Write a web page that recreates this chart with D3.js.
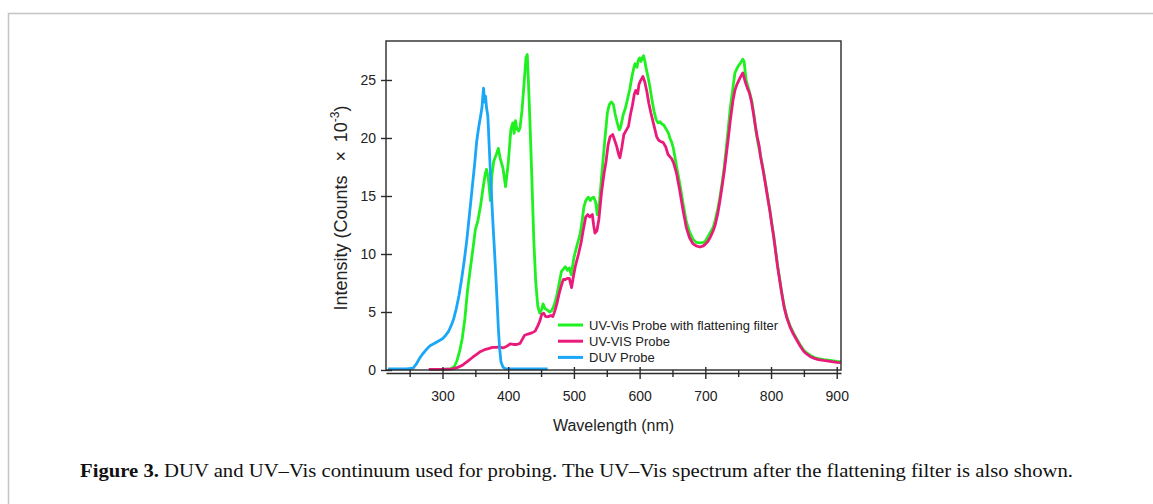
<!DOCTYPE html>
<html>
<head>
<meta charset="utf-8">
<script src="https://cdn.jsdelivr.net/npm/d3@7"></script>
<style>
	body { margin: 0; background: #fff; }
	svg { display: block; }
</style>
</head>
<body>
<div id="spectrum"></div>
<script>
// DUV probe
var duvWavelength = [217, 230, 245, 255, 260, 265, 270, 276, 281, 288, 294, 300, 305, 309, 313, 317, 321, 325, 329, 333, 337, 341, 345, 349, 352, 355, 358, 360, 361, 362.5, 364, 365.5, 367, 369, 371, 373, 375, 377, 379, 381, 383, 385, 387, 389, 392, 396, 410, 425, 440, 460];
var duvIntensity = [0.1, 0.1, 0.1, 0.15, 0.5, 1.0, 1.4, 1.8, 2.1, 2.3, 2.5, 2.7, 3.0, 3.3, 3.8, 4.4, 5.3, 6.4, 7.8, 9.4, 11.2, 13.4, 15.6, 17.8, 19.7, 20.9, 21.9, 22.6, 23.3, 24.3, 23.1, 23.6, 22.6, 21.9, 19.4, 16.9, 14.6, 12.4, 10.4, 8.3, 6.0, 3.6, 1.8, 0.7, 0.25, 0.1, 0.1, 0.1, 0.1, 0.1];

// UV-VIS probe
var visWavelength = [279, 300, 315, 322, 330, 338, 346, 352, 358, 364, 370, 376, 382, 387, 392, 398, 403, 408, 413, 418, 421, 425, 430, 436, 441, 445, 448, 451, 454, 457, 461, 465, 468, 471, 474, 478, 482, 484, 487, 490, 493, 496.5, 499, 502, 507, 511, 514, 518, 521, 524, 528, 530, 532, 535, 538, 542, 546, 549, 552, 555, 559, 562, 565, 568, 570, 573, 576, 580, 583, 586, 589, 592, 594, 597, 599, 601, 603, 605, 608, 611, 614, 617, 620, 623, 626, 629, 632, 636, 640, 643, 646, 649, 652, 656, 661, 666, 671, 676, 681, 686, 692, 697, 700, 704, 708, 712, 715, 719, 722, 726, 729, 732, 735, 738, 742, 745, 748, 753, 757, 759, 761, 764, 767, 770, 773, 776, 779, 782, 784, 788, 791, 795, 798, 801, 804, 807, 810, 813, 816, 820, 824, 829, 834, 840, 845, 850, 855, 860, 866, 872, 880, 890, 900, 906];
var visIntensity = [0.05, 0.05, 0.1, 0.2, 0.4, 0.75, 1.1, 1.35, 1.6, 1.75, 1.85, 1.95, 1.95, 2.0, 1.9, 2.05, 2.25, 2.2, 2.2, 2.3, 2.6, 3.0, 3.1, 3.2, 3.35, 3.8, 4.2, 4.8, 4.9, 4.6, 4.6, 4.7, 4.6, 5.1, 5.7, 6.7, 7.5, 7.8, 7.8, 7.9, 7.9, 7.1, 8.0, 8.9, 10.0, 11.0, 12.0, 13.2, 13.4, 13.2, 13.4, 12.5, 11.8, 12.0, 13.0, 15.3, 17.0, 18.0, 19.4, 20.1, 20.3, 19.8, 19.3, 18.6, 18.3, 19.2, 20.3, 20.7, 21.0, 22.0, 22.8, 23.8, 24.1, 23.8, 24.6, 24.9, 25.1, 25.3, 24.8, 24.0, 23.0, 22.2, 21.5, 20.8, 20.1, 19.8, 19.7, 19.6, 19.2, 18.6, 18.4, 18.2, 17.8, 17.0, 15.5, 13.8, 12.3, 11.4, 10.9, 10.7, 10.6, 10.7, 10.85, 11.1, 11.5, 12.0, 12.5, 13.5, 14.5, 16.0, 17.2, 18.6, 20.0, 21.5, 23.2, 24.1, 24.6, 25.2, 25.6, 25.2, 24.8, 24.3, 23.9, 23.2, 22.2, 21.1, 20.1, 19.3, 18.4, 17.2, 16.2, 14.8, 13.8, 12.6, 11.5, 10.2, 8.9, 7.8, 6.7, 5.4, 4.5, 3.7, 3.1, 2.5, 2.0, 1.6, 1.35, 1.15, 1.0, 0.9, 0.82, 0.74, 0.66, 0.63];

// UV-Vis probe with flattening filter
var flatWavelength = [282, 300, 312, 318, 322, 326, 330, 334, 338, 342, 346, 350, 354, 358, 362, 365, 367, 370, 373, 375, 378, 382, 385, 388, 392, 396, 400, 404, 407, 409, 411, 413, 416, 418, 421, 424, 427, 429, 431, 433, 436, 439, 442, 445, 448, 451, 453, 456, 459, 463, 466, 470, 474, 478, 481, 484, 487, 490, 493, 496, 500, 505, 509, 512, 515, 518, 522, 525, 527, 530, 533, 535.5, 539, 543, 547, 551, 554, 557, 560, 563, 566, 569, 571, 575, 578, 581, 585, 588, 591, 593, 596, 598, 600, 602, 604, 606, 608, 610, 613, 616, 619, 622, 625, 628, 631, 634, 637, 641, 644, 646, 649, 651, 654, 657, 661, 666, 671, 676, 681, 686, 692, 697, 700, 704, 708, 712, 715, 719, 722, 726, 729, 732, 735, 738, 742, 745, 750, 754, 757, 759, 762, 765, 768, 771, 774, 777, 780, 784, 788, 791, 795, 798, 801, 804, 807, 810, 813, 816, 820, 824, 829, 834, 840, 845, 850, 855, 860, 866, 872, 880, 890, 900, 906];
var flatIntensity = [0.05, 0.05, 0.1, 0.3, 0.8, 1.6, 2.7, 4.4, 6.8, 8.6, 10.3, 12.1, 12.9, 14.2, 15.8, 16.9, 17.3, 16.4, 14.6, 16.7, 18.0, 18.6, 19.1, 18.2, 17.4, 15.8, 17.8, 20.7, 21.3, 20.4, 21.5, 20.8, 20.6, 20.9, 22.4, 24.6, 26.9, 27.2, 24.5, 21.5, 16.5, 11.1, 7.5, 5.5, 4.9, 5.2, 5.7, 5.3, 5.2, 5.0, 5.1, 5.6, 6.4, 7.6, 8.5, 8.7, 8.9, 8.6, 8.8, 8.2, 9.7, 10.8, 11.6, 12.6, 14.0, 14.6, 14.9, 14.6, 14.8, 14.9, 14.5, 13.4, 14.6, 17.2, 19.8, 22.2, 22.9, 23.1, 22.9, 22.0, 21.3, 20.7, 20.9, 22.0, 22.5, 23.2, 24.2, 25.2, 26.0, 26.4, 26.1, 26.7, 26.9, 26.6, 26.9, 27.1, 26.6, 26.0, 25.2, 24.3, 23.2, 22.3, 21.6, 21.3, 21.4, 21.2, 21.1, 20.7, 20.4, 20.0, 19.6, 19.2, 18.3, 17.3, 16.1, 14.4, 12.8, 11.9, 11.3, 11.0, 10.95, 11.0, 11.1, 11.5, 11.9, 12.3, 12.9, 13.9, 14.8, 16.3, 17.6, 19.2, 20.9, 22.6, 24.3, 25.6, 26.2, 26.5, 26.8, 26.6, 25.0, 24.4, 23.8, 23.1, 22.0, 20.6, 19.6, 18.5, 17.3, 16.3, 14.9, 13.9, 12.7, 11.6, 10.3, 9.0, 7.9, 6.8, 5.5, 4.6, 3.8, 3.2, 2.6, 2.1, 1.7, 1.45, 1.25, 1.08, 0.98, 0.9, 0.83, 0.75, 0.72];

var xMajorTicks = [300, 400, 500, 600, 700, 800, 900];
var xMinorTicks = [250, 350, 450, 550, 650, 750, 850];
var yTicks = [0, 5, 10, 15, 20, 25];
var legendLabels = ["UV-Vis Probe with flattening filter", "UV-VIS Probe", "DUV Probe"];

function SpectrumChart() {
	var width = 1153,
	    height = 504;
	var plot = {left: 386, right: 841, top: 41, bottom: 370};
	var font = "Arial, 'Liberation Sans', sans-serif";

	var x = d3.scaleLinear().domain([214, 906.5]).range([plot.left, plot.right]);
	var y = d3.scaleLinear().domain([0, 28.36]).range([plot.bottom, plot.top]);

	var series = [
		{label: legendLabels[0], color: "#1ff01f", wl: flatWavelength, val: flatIntensity},
		{label: legendLabels[1], color: "#ea1a7b", wl: visWavelength, val: visIntensity},
		{label: legendLabels[2], color: "#1aa7f7", wl: duvWavelength, val: duvIntensity}
	];

	var line = d3.line()
		.x(function(d) { return x(d[0]); })
		.y(function(d) { return y(d[1]); });

	this.create = function() {
		var svg = d3.select("#spectrum").append("svg")
			.attr("width", width)
			.attr("height", height)
			.style("background", "#fff");

		// page frame
		svg.append("path")
			.attr("d", "M1160,13.5 H8.5 V510")
			.attr("fill", "none")
			.attr("stroke", "#c4c4c4")
			.attr("stroke-width", 1.5);

		// curves (green under pink under blue)
		svg.append("g").selectAll("path")
			.data(series)
			.enter()
			.append("path")
			.attr("d", function(s) { return line(d3.zip(s.wl, s.val)); })
			.attr("fill", "none")
			.attr("stroke", function(s) { return s.color; })
			.attr("stroke-width", 2.8)
			.attr("stroke-linejoin", "round");

		// plot frame
		svg.append("rect")
			.attr("x", plot.left)
			.attr("y", plot.top)
			.attr("width", plot.right - plot.left)
			.attr("height", plot.bottom - plot.top)
			.attr("fill", "none")
			.attr("stroke", "#2a2a2a")
			.attr("stroke-width", 1.4);

		// x axis
		var xAxis = svg.append("g")
			.attr("transform", "translate(0,373)")
			.call(d3.axisBottom(x).tickValues(xMajorTicks).tickSize(6).tickSizeOuter(0).tickPadding(12));
		xAxis.selectAll(".tick line").attr("y1", -6);

		var xMinor = svg.append("g")
			.attr("transform", "translate(0,373)")
			.call(d3.axisBottom(x).tickValues(xMinorTicks).tickSize(4).tickSizeOuter(0).tickFormat(""));
		xMinor.selectAll(".tick line").attr("y1", -3);
		xMinor.select(".domain").remove();

		// y axis
		var yAxis = svg.append("g")
			.attr("transform", "translate(" + plot.left + ",0)")
			.call(d3.axisLeft(y).tickValues(yTicks).tickSize(5).tickSizeOuter(0).tickPadding(5));
		yAxis.selectAll(".tick line").attr("x1", 6);
		yAxis.select(".domain").remove();

		svg.selectAll(".tick text")
			.attr("font-family", font)
			.attr("font-size", "14px")
			.attr("fill", "#222");
		svg.selectAll(".tick line, .domain")
			.attr("stroke", "#2a2a2a")
			.attr("stroke-width", 1.4);

		// axis titles
		svg.append("text")
			.attr("x", (plot.left + plot.right) / 2)
			.attr("y", 431)
			.attr("text-anchor", "middle")
			.attr("font-family", font)
			.attr("font-size", "16px")
			.attr("fill", "#222")
			.text("Wavelength (nm)");

		var ylab = svg.append("text")
			.attr("transform", "translate(347,208) rotate(-90)")
			.attr("text-anchor", "middle")
			.attr("font-family", font)
			.attr("font-size", "18px")
			.attr("fill", "#222");
		ylab.append("tspan").text("Intensity (Counts\u2002 \u00d7\u2009 10");
		ylab.append("tspan").attr("dy", -8).attr("font-size", "12px").text("-3");
		ylab.append("tspan").attr("dy", 8).text(")");

		// legend
		var legend = svg.append("g").selectAll("g")
			.data(series)
			.enter()
			.append("g")
			.attr("transform", function(d, i) { return "translate(558," + (325 + i * 16.2) + ")"; });
		legend.append("line")
			.attr("x1", 0).attr("x2", 25)
			.attr("stroke", function(d) { return d.color; })
			.attr("stroke-width", 3);
		legend.append("text")
			.attr("x", 31)
			.attr("y", 5)
			.attr("font-family", font)
			.attr("font-size", "13px")
			.attr("fill", "#222")
			.text(function(d) { return d.label; });

		// caption
		var cap = svg.append("text")
			.attr("x", 80)
			.attr("y", 477)
			.attr("textLength", 993)
			.attr("lengthAdjust", "spacingAndGlyphs")
			.attr("font-family", "'Liberation Serif', 'Times New Roman', serif")
			.attr("font-size", "19px")
			.attr("fill", "#111");
		cap.append("tspan").attr("font-weight", "bold").text("Figure 3.");
		cap.append("tspan").text(" DUV and UV\u2013Vis continuum used for probing. The UV\u2013Vis spectrum after the flattening filter is also shown.");
	};
}

var chart = new SpectrumChart();
chart.create();
</script>
</body>
</html>
